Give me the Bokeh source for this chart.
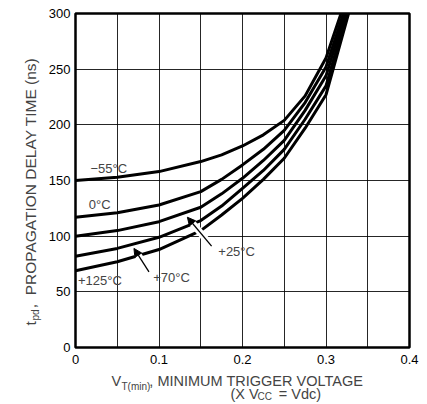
from bokeh.plotting import figure
from bokeh.models import (Range1d, FixedTicker, Label, Arrow, NormalHead)
from bokeh.embed import file_html
from bokeh.resources import INLINE
import math

# ---- data ----
x_vals = [0.0, 0.05, 0.10, 0.15, 0.175, 0.20, 0.225, 0.25, 0.275, 0.30]
t_m55 = [150, 153, 158, 167, 173, 181, 191, 204, 226, 260]
t_0 = [117, 121, 128, 140, 151, 164, 178, 195, 220, 252]
t_25 = [100, 105, 113, 126, 138, 152, 168, 186, 213, 244]
t_70 = [82, 89, 99, 114, 127, 143, 159, 178, 205, 235]
t_125 = [69, 77, 88, 105, 119, 134, 151, 170, 197, 227]
x_end = [0.318, 0.321, 0.323, 0.325, 0.327]   # where each curve reaches 300 ns
t_end = 300

x_ticks = [0, 0.1, 0.2, 0.3, 0.4]
x_tick_labels = ["0", "0.1", "0.2", "0.3", "0.4"]
y_ticks = [0, 50, 100, 150, 200, 250, 300]
x_grid = [0.05, 0.10, 0.15, 0.20, 0.25, 0.30, 0.35]
y_grid = [50, 100, 150, 200, 250]

curve_names = ["\u221255\u00b0C", "0\u00b0C", "+25\u00b0C", "+70\u00b0C", "+125\u00b0C"]
curves = [t_m55, t_0, t_25, t_70, t_125]
# label anchors (data coordinates)
label_x = [0.018, 0.016, 0.171, 0.093, 0.003]
label_y = [161, 128, 86, 63, 60]
# arrows: (tail x, tail y, tip x, tip y)
arrow_25 = (0.163, 91, 0.134, 117)
arrow_70 = (0.088, 68, 0.070, 89)

FONT = "Liberation Sans"
NB = "\u00a0"

p = figure(width=424, height=404, output_backend="svg", toolbar_location=None,
           x_range=Range1d(0, 0.4), y_range=Range1d(0, 300),
           min_border_left=75, min_border_right=15, min_border_top=13,
           min_border_bottom=57)
p.background_fill_color = "white"
p.border_fill_color = "white"
p.outline_line_color = "black"
p.outline_line_width = 2.5

# grid
p.xgrid.ticker = FixedTicker(ticks=x_grid)
p.ygrid.ticker = FixedTicker(ticks=y_grid)
for g in (p.xgrid, p.ygrid):
    g.grid_line_color = "black"
    g.grid_line_width = 1
    g.grid_line_alpha = 0.85

# axes
p.xaxis.ticker = FixedTicker(ticks=x_ticks)
p.xaxis.major_label_overrides = {t: l for t, l in zip(x_ticks, x_tick_labels)}
p.yaxis.ticker = FixedTicker(ticks=y_ticks)
for ax in (p.xaxis, p.yaxis):
    ax.axis_line_color = None
    ax.major_tick_line_color = None
    ax.minor_tick_line_color = None
    ax.major_tick_out = 0
    ax.major_tick_in = 0
    ax.minor_tick_out = 0
    ax.minor_tick_in = 0
    ax.major_label_text_font = FONT
    ax.major_label_text_font_size = "13px"
    ax.major_label_text_color = "black"
p.xaxis.major_label_standoff = 7
p.yaxis.major_label_standoff = 5

# curves
for ys, xe in zip(curves, x_end):
    p.line(x_vals + [xe], ys + [t_end], line_color="black", line_width=3,
           line_join="round", line_cap="round")

# arrows with white break under the shaft
for (x0, y0, x1, y1) in (arrow_25, arrow_70):
    xm = x0 + 0.8 * (x1 - x0)
    ym = y0 + 0.8 * (y1 - y0)
    p.add_layout(Arrow(end=None, x_start=x0, y_start=y0, x_end=xm, y_end=ym,
                       line_color="white", line_width=7))
    p.add_layout(Arrow(end=NormalHead(size=8, fill_color="black", line_color="black"),
                       x_start=x0, y_start=y0, x_end=x1, y_end=y1,
                       line_color="black", line_width=1.3))

# curve labels
for name, lx, ly in zip(curve_names, label_x, label_y):
    p.add_layout(Label(x=lx, y=ly, text=name, text_font=FONT, text_font_size="13px",
                       text_align="left", text_baseline="middle"))

# ---- axis titles (with subscripts), placed in side panels so they are not clipped ----
def px_x(px):
    return (px - 75) / 334 * 0.4

def px_y(py):
    return (347 - py) / 334 * 300

def add_text(place, txt, px, py, size, angle=0.0):
    p.add_layout(Label(x=px_x(px), y=px_y(py), text=txt, text_font=FONT,
                       text_font_size=size, text_align="left",
                       text_baseline="alphabetic", angle=angle), place)

A = math.pi / 2
# y title (rotated), subscript separately
add_text("left", "t" + NB * 3 + "," + NB * 2 + "PROPAGATION DELAY TIME (ns)", 30, 325, "15.5px", A)
add_text("left", "pd", 35, 320, "10px", A)

# x title
add_text("below", "V" + NB * 7 + ", MINIMUM TRIGGER VOLTAGE", 111, 380, "14.5px")
add_text("below", "(X V" + NB * 5 + "= Vdc)", 230, 393, "14.5px")
add_text("above", "T(min)", 121, 386, "10px")
add_text("right", "CC", 257, 396, "10px")

open("out.html", "w").write(file_html(p, INLINE))
